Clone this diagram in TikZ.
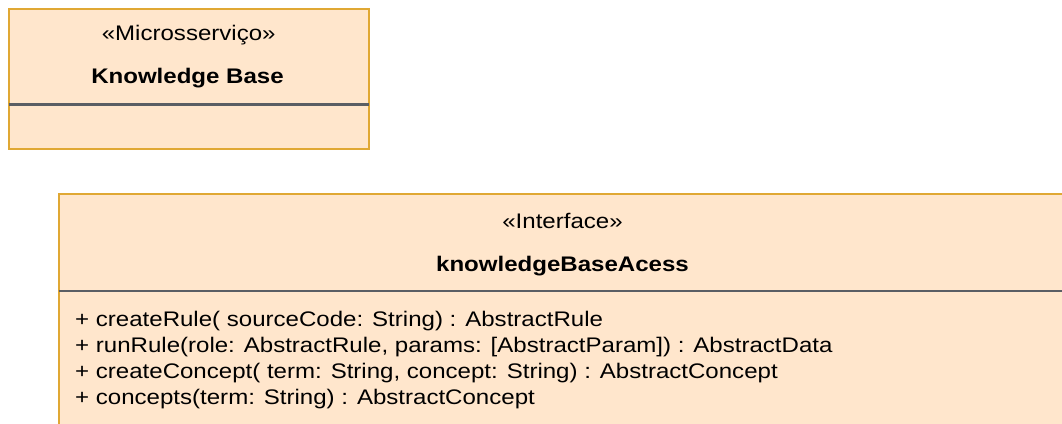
\documentclass[tikz,border=0pt]{standalone}
\usepackage{fontspec}
\setmainfont{Liberation Sans}[FakeStretch=1.14]
\begin{document}
\begin{tikzpicture}[x=1pt,y=-1pt,
  classbox/.style={draw=umlborder,fill=umlfill,line width=2pt},
  divider/.style={draw=umldiv,line width=2.8pt},
  label/.style={inner sep=0pt,anchor=base,text=black,font=\fontsize{21.1}{26}\selectfont},
  member/.style={label,anchor=base west}]
\definecolor{umlfill}{HTML}{FFE6CC}
\definecolor{umlborder}{HTML}{E0A834}
\definecolor{umldiv}{HTML}{5A5E64}
\useasboundingbox (0,0) rectangle (1062,423);
\clip (0,0) rectangle (1062,423);

% Microservice class: Knowledge Base
\draw[classbox] (8.5,9) rectangle (369,149.3);
\draw[divider] (8.5,104.3) -- (369,104.3);
\node[label] (kbstereo) at (188.7,40) {«Microsserviço»};
\node[label,font=\fontsize{21.1}{26}\selectfont\bfseries] (kbname) at (187.5,83) {Knowledge Base};

% Interface class: knowledgeBaseAcess
\draw[classbox] (58.5,193.5) rectangle (1066,440);
\draw[divider] (58.5,291) -- (1066,291);
\node[label] (ifstereo) at (562.5,228) {«Interface»};
\node[label,font=\fontsize{21.1}{26}\selectfont\bfseries] (ifname) at (562.5,271) {knowledgeBaseAcess};

\node[member] (m1) at (75,326) {+ createRule( sourceCode: String) : AbstractRule};
\node[member] (m2) at (75,352) {+ runRule(role: AbstractRule, params: [AbstractParam]) : AbstractData};
\node[member] (m3) at (75,378) {+ createConcept( term: String, concept: String) : AbstractConcept};
\node[member] (m4) at (75,404) {+ concepts(term: String) : AbstractConcept};
\end{tikzpicture}
\end{document}
